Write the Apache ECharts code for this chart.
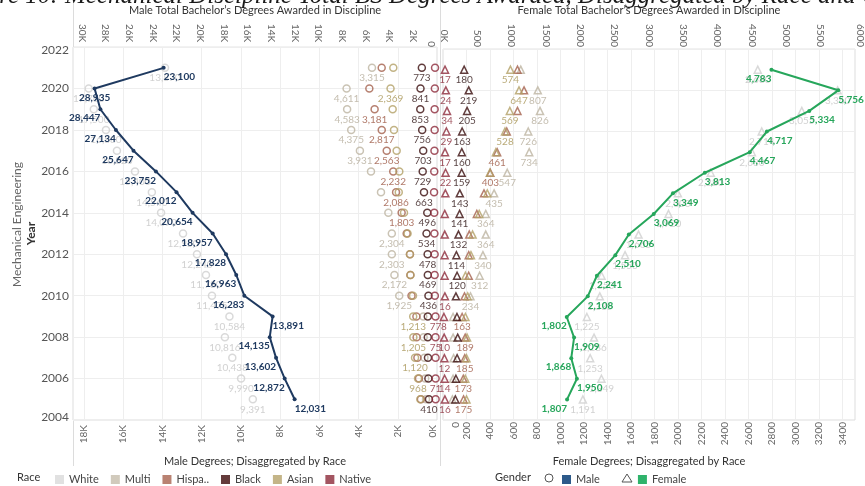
<!DOCTYPE html>
<html><head><meta charset="utf-8">
<script src="https://cdn.jsdelivr.net/npm/echarts/dist/echarts.min.js"></script>
<style>html,body{margin:0;padding:0;background:#fff}#c{width:865px;height:486px}</style>
</head><body><div id="c"></div>
<script>
// ---------- DATA ----------
const years = [2005,2006,2007,2008,2009,2010,2011,2012,2013,2014,2015,2016,2017,2018,2019,2020,2021];

const maleTotal   = [12031,12872,13602,14135,13891,16283,16963,17828,18957,20654,22012,23752,25647,27134,28447,28935,23100];
const femaleTotal = [1807,1950,1868,1909,1802,2108,2241,2510,2706,3069,3349,3813,4467,4717,5334,5756,4783];

const maleWhite    = [9391,9990,10438,10816,10584,11475,11780,12240,12950,14070,14540,15400,16320,16880,17500,17760,13870];
const maleMulti    = [560,600,640,680,700,1925,2172,2303,2304,2480,2856,3366,3931,4375,4583,4611,3315];
const maleHispanic = [820,920,1000,1040,1050,1300,1360,1377,1547,1803,2086,2232,2563,2817,3181,3450,2820];
const maleBlack    = [410,440,460,470,470,436,469,478,534,496,663,729,703,756,853,841,773];
const maleAsian    = [850,968,1120,1205,1213,1224,1350,1380,1500,1683,1950,1922,2057,2193,2260,2369,2228];
const maleNative   = [70,71,73,75,77,110,120,120,130,140,150,140,130,120,120,110,100];

const femaleWhite    = [1191,1349,1253,1286,1225,1335,1350,1550,1665,1920,2000,2280,2630,2714,3055,3360,2680];
const femaleMulti    = [80,86,90,86,86,234,312,340,364,364,435,547,734,726,826,807,662];
const femaleHispanic = [175,173,185,189,163,183,219,219,224,288,349,403,461,543,634,690,634];
const femaleBlack    = [105,110,120,125,119,110,120,114,132,141,143,159,160,163,205,219,180];
const femaleAsian    = [200,190,200,205,191,210,191,238,252,308,377,399,450,528,569,647,574];
const femaleNative   = [16,14,12,10,8,16,14,14,15,15,20,22,17,29,34,24,17];

// years whose data label is visible
const maleWhiteLabels    = years;
const maleMultiLabels    = [2021,2020,2019,2018,2017,2013,2012,2011,2010];
const maleHispanicLabels = [2019,2018,2017,2016,2015,2014];
const maleBlackLabels    = [2021,2020,2019,2018,2017,2016,2015,2014,2013,2012,2011,2010,2005];
const maleAsianLabels    = [2020,2009,2008,2007,2006];
const maleNativeLabels   = [2009,2008,2006];

const femaleWhiteLabels    = years;
const femaleMultiLabels    = [2020,2019,2018,2017,2016,2015,2014,2013,2012,2011,2010];
const femaleHispanicLabels = [2017,2016,2009,2008,2007,2006,2005];
const femaleBlackLabels    = [2021,2020,2019,2018,2017,2016,2015,2014,2013,2012,2011];
const femaleAsianLabels    = [2021,2020,2019,2018];
const femaleNativeLabels   = [2021,2020,2019,2018,2017,2016,2010,2009,2008,2007,2006,2005];

// label alignment of total lines
const maleTotalLeft    = [2021,2009,2005];
const maleTotalCenter  = [2020];
const femaleTotalRight = [2021,2009,2007,2005];

const raceNames  = ['White','Multi','Hispanic','Black','Asian','Native'];
const maleTicksTop = 2000, maleTicksBottom = 2000, femaleTicksTop = 500, femaleTicksBottom = 200;

// ---------- STYLE ----------
const FONT = 'Lato';
const raceColor = {White:'#cfcfcf', Multi:'#bdb4a1', Hispanic:'#a4604c', Black:'#3a0c0c', Asian:'#b3a066', Native:'#8d2b3b'};
const raceLabelColor = {White:'#c6c6c6', Multi:'#b5ad9b', Hispanic:'#9c5744', Black:'#2a1010', Asian:'#a89556', Native:'#8a2a38'};
const legendColor = {White:'#dadada', Multi:'#c5bdab', Hispanic:'#a8634f', Black:'#3d0a0a', Asian:'#b5a36a', Native:'#8c2b3a'};
const NAVY = '#1f3a60', GREEN = '#26a65b';
const fmt = v => Math.round(v).toLocaleString('en-US');

function raceSeries(name, vals, labelYrs, xi, yi, symbol) {
  return {
    name, type:'scatter', xAxisIndex:xi, yAxisIndex:yi, symbol, symbolSize:7, z:2,
    itemStyle:{color:'rgba(255,255,255,0)', borderColor:raceColor[name], borderWidth:1.5},
    label:{show:false, position:'bottom', distance:1, fontSize:10, fontFamily:FONT,
           color:raceLabelColor[name], formatter:p=>fmt(p.value[0])},
    emphasis:{disabled:true},
    data: years.map((y,i)=>({value:[vals[i], y], label:{show: labelYrs.includes(y)}}))
  };
}
function totalSeries(name, vals, color, xi, yi, alignFn) {
  return {
    name, type:'line', xAxisIndex:xi, yAxisIndex:yi, z:5, symbol:'circle', symbolSize:4, showAllSymbol:true,
    lineStyle:{color, width:2}, itemStyle:{color},
    label:{show:true, position:'bottom', distance:2, fontSize:10, fontWeight:'bold', fontFamily:FONT,
           color, formatter:p=>fmt(p.value[0])},
    emphasis:{disabled:true},
    data: years.map((y,i)=>({value:[vals[i], y], label:{align: alignFn(y)}}))
  };
}

const maleSeriesVals = {White:maleWhite, Multi:maleMulti, Hispanic:maleHispanic, Black:maleBlack, Asian:maleAsian, Native:maleNative};
const maleSeriesLbl  = {White:maleWhiteLabels, Multi:maleMultiLabels, Hispanic:maleHispanicLabels, Black:maleBlackLabels, Asian:maleAsianLabels, Native:maleNativeLabels};
const femSeriesVals  = {White:femaleWhite, Multi:femaleMulti, Hispanic:femaleHispanic, Black:femaleBlack, Asian:femaleAsian, Native:femaleNative};
const femSeriesLbl   = {White:femaleWhiteLabels, Multi:femaleMultiLabels, Hispanic:femaleHispanicLabels, Black:femaleBlackLabels, Asian:femaleAsianLabels, Native:femaleNativeLabels};

const series = [];
raceNames.forEach(n => series.push(raceSeries(n, maleSeriesVals[n], maleSeriesLbl[n], 1, 0, 'circle')));
raceNames.forEach(n => series.push(raceSeries(n, femSeriesVals[n], femSeriesLbl[n], 3, 1, 'triangle')));
series.push(totalSeries('Male', maleTotal, NAVY, 0, 0,
  y => maleTotalLeft.includes(y) ? 'left' : (maleTotalCenter.includes(y) ? 'center' : 'right')));
series.push(totalSeries('Female', femaleTotal, GREEN, 2, 1,
  y => femaleTotalRight.includes(y) ? 'right' : 'left'));

const tickLbl = {rotate:90, fontSize:10, fontFamily:FONT, color:'#666'};
const nameStyle = {fontSize:11, fontFamily:FONT, color:'#333'};
const gridLine = {lineStyle:{color:'#eeeeee', width:1}};

function kfmt(step) {
  return v => {
    if (Math.abs(v % step) > 1e-6) return '';
    const t = (v/1000) + 'K';
    return v === 0 ? '{e|' + t + '}' : t;
  };
}

const option = {
  animation:false,
  textStyle:{fontFamily:FONT},
  grid:[
    {left:73, top:46, width:364, height:374, show:true, borderColor:'#dcdcdc', borderWidth:1},
    {left:443, top:46, width:422, height:374, show:true, borderColor:'#dcdcdc', borderWidth:1}
  ],
  xAxis:[
    {gridIndex:0, type:'value', position:'top', inverse:true, min:0, max:30760, interval:maleTicksTop,
     axisLine:{show:false}, axisTick:{show:false}, splitLine:{show:false},
     axisLabel:Object.assign({}, tickLbl, {margin:5, formatter:kfmt(maleTicksTop),
        rich:{e:{fontSize:10, fontFamily:FONT, color:'#666', padding:[0,0,14,0]}}}),
     name:'Male Total Bachelor’s Degrees Awarded in Discipline', nameLocation:'middle', nameGap:30, nameTextStyle:nameStyle},
    {gridIndex:0, type:'value', position:'bottom', inverse:true, min:0, max:18561, interval:maleTicksBottom,
     axisLine:{show:false}, axisTick:{show:false}, splitLine:gridLine,
     axisLabel:Object.assign({}, tickLbl, {margin:5, formatter:kfmt(maleTicksBottom),
        rich:{e:{fontSize:10, fontFamily:FONT, color:'#666', padding:[0,0,8,0]}}}),
     name:'Male Degrees; Disaggregated by Race', nameLocation:'middle', nameGap:36, nameTextStyle:nameStyle},
    {gridIndex:1, type:'value', position:'top', min:0, max:6000, interval:femaleTicksTop,
     axisLine:{show:false}, axisTick:{show:false}, splitLine:{show:false},
     axisLabel:Object.assign({}, tickLbl, {margin:2,
        formatter:v => v===0 ? '{a|0}' : (v===6000 ? '{b|6000}' : String(v)),
        rich:{a:{fontSize:10, fontFamily:FONT, color:'#666', padding:[24,0,0,0]},
              b:{fontSize:10, fontFamily:FONT, color:'#666', padding:[0,0,10,0]}}}),
     name:'Female Total Bachelor’s Degrees Awarded in Discipline', nameLocation:'middle', nameGap:30, nameTextStyle:nameStyle},
    {gridIndex:1, type:'value', position:'bottom', min:0, max:3508, interval:femaleTicksBottom,
     axisLine:{show:false}, axisTick:{show:false}, splitLine:gridLine,
     axisLabel:Object.assign({}, tickLbl, {margin:2,
        formatter:v => (Math.abs(v % femaleTicksBottom) > 1e-6) ? '' : (v===0 ? '{a|0}' : String(v)),
        rich:{a:{fontSize:10, fontFamily:FONT, color:'#666', padding:[26,0,0,0]}}}),
     name:'Female Degrees; Disaggregated by Race', nameLocation:'middle', nameGap:36, nameTextStyle:nameStyle}
  ],
  yAxis:[
    {gridIndex:0, type:'value', min:2004, max:2022, interval:2,
     axisLine:{show:false}, axisTick:{show:false}, splitLine:gridLine,
     axisLabel:{fontSize:12, fontFamily:FONT, color:'#555', margin:4,
       formatter:v => v===2022 ? '{t|2022}' : (v===2004 ? '{b|2004}' : String(v)),
       rich:{t:{fontSize:12, fontFamily:FONT, color:'#555', padding:[6,0,0,0]},
             b:{fontSize:12, fontFamily:FONT, color:'#555', padding:[0,0,5,0]}}},
     name:'Year', nameLocation:'middle', nameGap:36, nameRotate:90,
     nameTextStyle:{fontSize:12, fontWeight:'bold', fontFamily:FONT, color:'#333'}},
    {gridIndex:1, type:'value', min:2004, max:2022, interval:2,
     axisLine:{show:false}, axisTick:{show:false}, splitLine:gridLine, axisLabel:{show:false}}
  ],
  legend:[
    {left:50, top:469, itemWidth:9, itemHeight:9, itemGap:12, icon:'rect', selectedMode:false,
     textStyle:{fontSize:11, fontFamily:FONT, color:'#444'},
     formatter:n => n==='Hispanic' ? 'Hispa..' : n,
     data: raceNames.map(n => ({name:n, itemStyle:{color:legendColor[n], borderWidth:0}}))},
    {left:557, top:469, itemWidth:9, itemHeight:9, itemGap:38, icon:'rect', selectedMode:false,
     textStyle:{fontSize:11, fontFamily:FONT, color:'#444'},
     data:[{name:'Male', itemStyle:{color:'#2d5a8a', borderWidth:0}},
           {name:'Female', itemStyle:{color:'#2fb36b', borderWidth:0}}]}
  ],
  graphic:[
    {type:'text', left:-48, top:-16, z:10, style:{text:'Figure 10: Mechanical Discipline Total BS Degrees Awarded, Disaggregated by Race and Gender',
      fontSize:25, fontStyle:'italic', fontFamily:'Liberation Serif', fill:'#1a1a1a'}},
    {type:'text', left:11, top:162, rotation:Math.PI/2, style:{text:'Mechanical Engineering', fontSize:12, fontFamily:FONT, fill:'#666'}},
    {type:'line', shape:{x1:73.5, y1:0, x2:73.5, y2:466}, style:{stroke:'#dcdcdc', lineWidth:1}},
    {type:'line', shape:{x1:440.5, y1:0, x2:440.5, y2:466}, style:{stroke:'#dcdcdc', lineWidth:1}},
    {type:'text', left:17, top:472, style:{text:'Race', fontSize:11, fontFamily:FONT, fill:'#333'}},
    {type:'text', left:495, top:472, style:{text:'Gender', fontSize:11, fontFamily:FONT, fill:'#333'}},
    {type:'circle', shape:{cx:549, cy:478, r:4}, style:{fill:'none', stroke:'#555', lineWidth:1}},
    {type:'polygon', shape:{points:[[627,474],[632,482],[622,482]]}, style:{fill:'none', stroke:'#555', lineWidth:1}}
  ],
  series
};

const chart = echarts.init(document.getElementById('c'), null, {renderer:'canvas'});
chart.setOption(option);
</script>
</body></html>
